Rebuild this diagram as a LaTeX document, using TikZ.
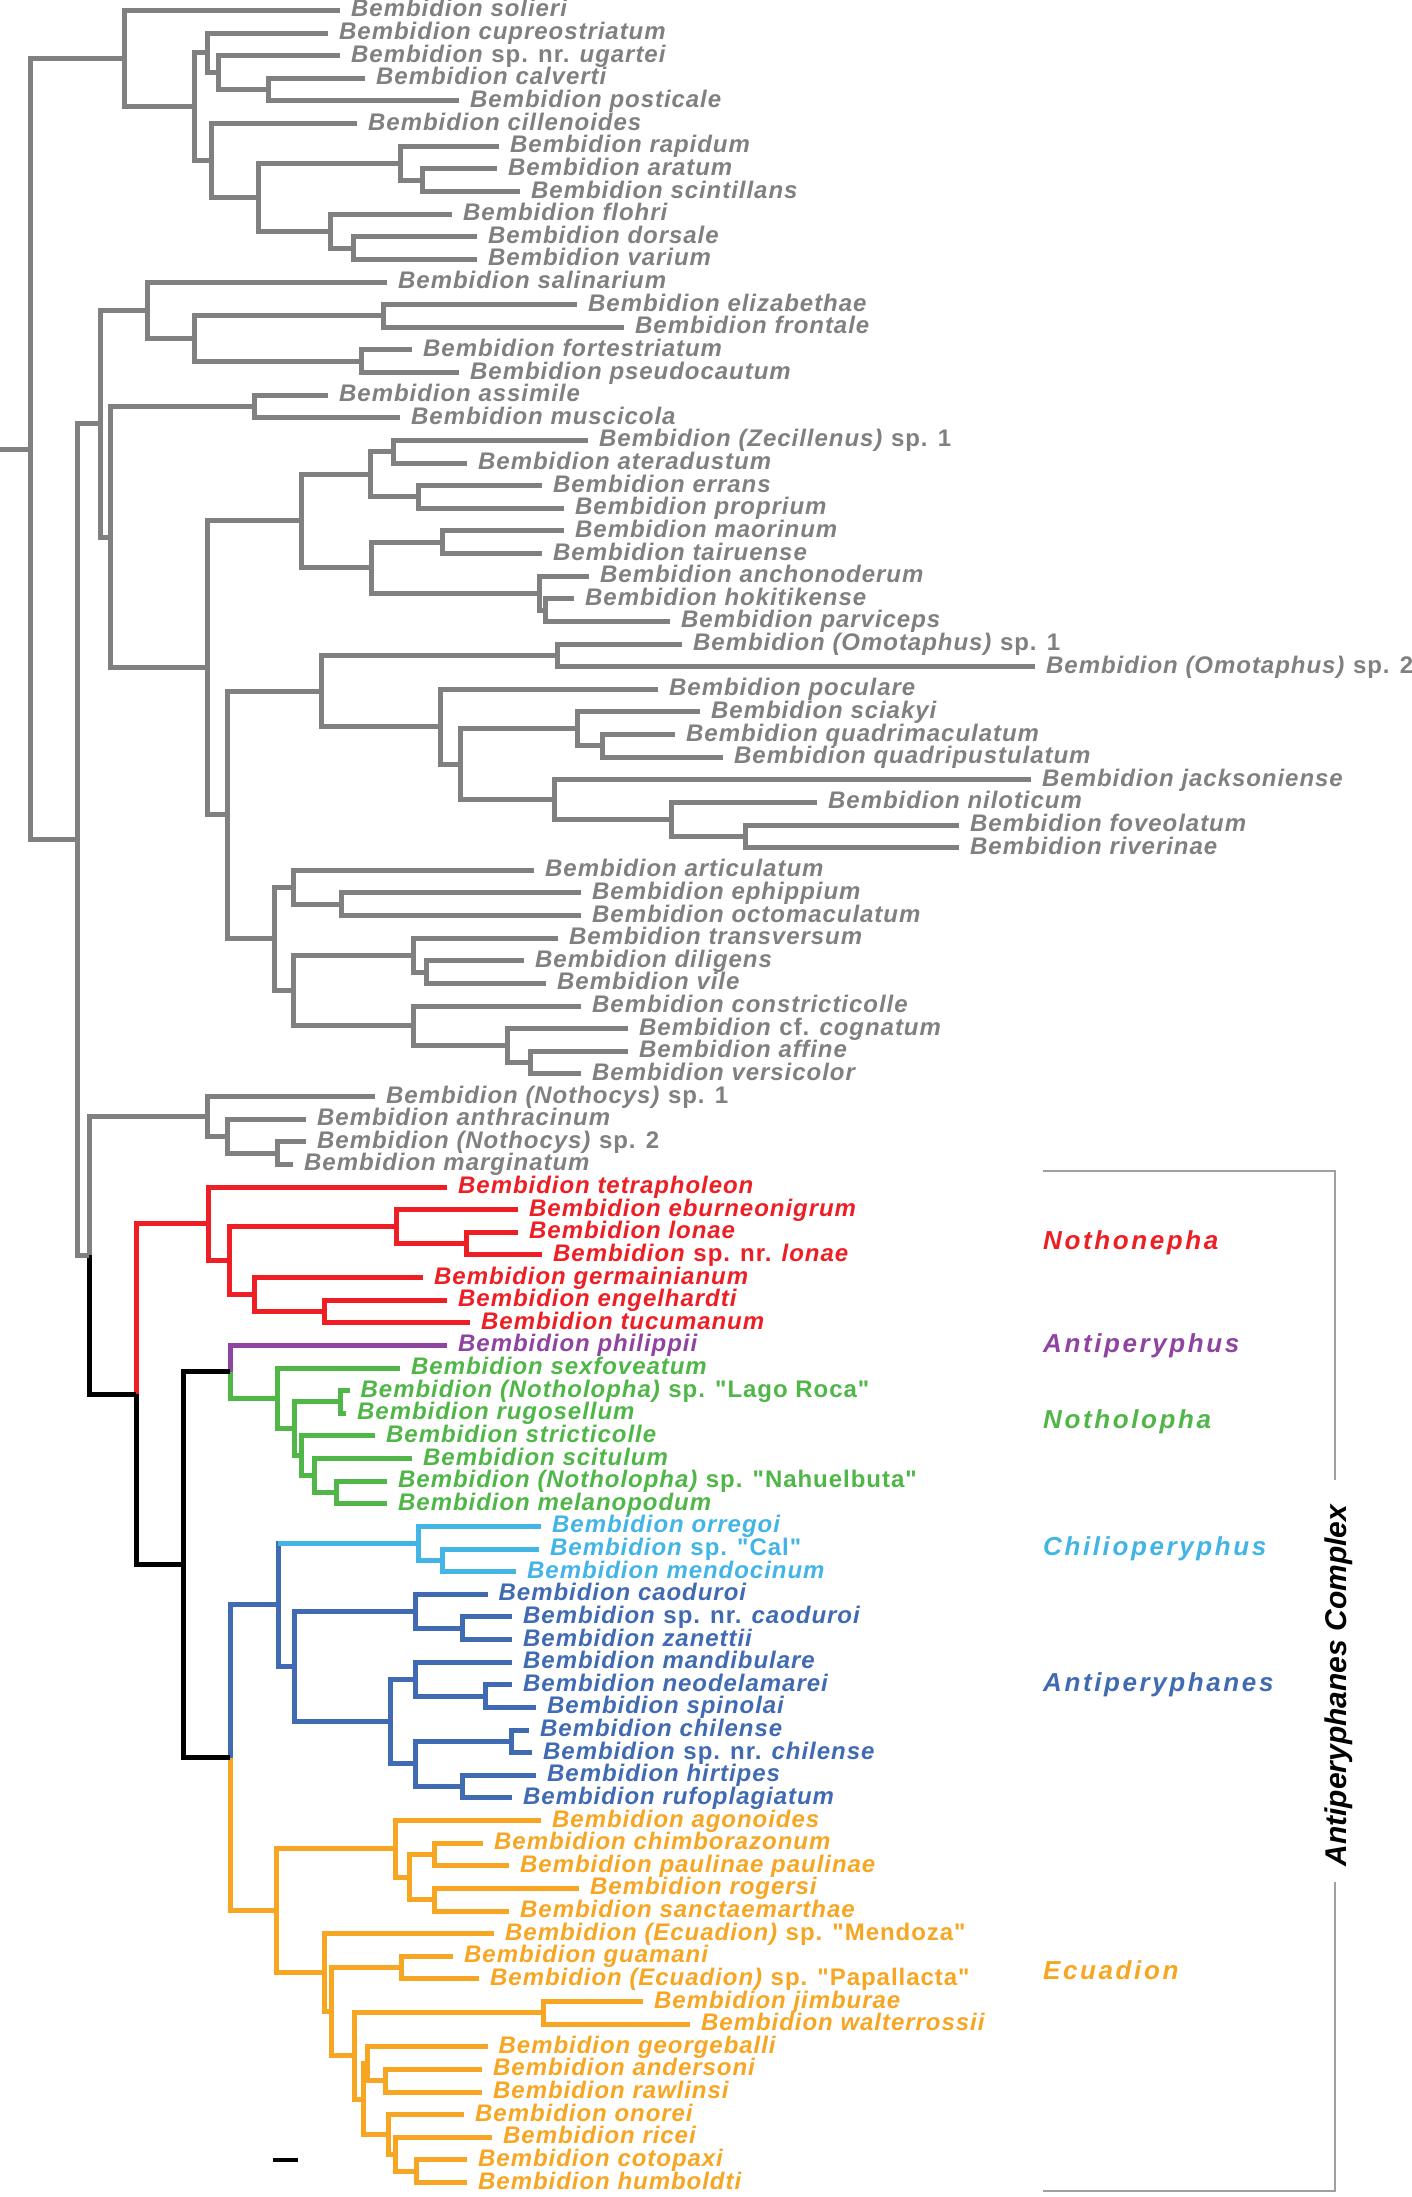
\documentclass[tikz,border=0pt]{standalone}
\usepackage{fontspec}
\setmainfont{Liberation Sans}
\newfontfamily\spf[LetterSpace=4]{Liberation Sans}
\newfontfamily\clf[LetterSpace=10]{Liberation Sans}
\newfontfamily\cxf{Liberation Sans}
\usetikzlibrary{calc}
\definecolor{cGray}{RGB}{128,128,128}
\definecolor{cBr}{RGB}{160,160,160}
\definecolor{cRed}{RGB}{237,30,36}
\definecolor{cPurple}{RGB}{142,68,160}
\definecolor{cGreen}{RGB}{80,182,72}
\definecolor{cLBlue}{RGB}{66,180,230}
\definecolor{cBlue}{RGB}{64,106,178}
\definecolor{cOrange}{RGB}{247,166,35}
\newcommand\uprm[1]{\textup{#1}}
\newcommand\lf[4]{%
  \coordinate (l#1) at (#2,{10.5+(#1-1)*22.625});
  \node[lab,text=#3] (t#1) at ($(l#1)+(11,6.5)$) {#4};}
\newcommand\nd[6]{%
  \path let \p1=(#3), \p2=(#5) in (#2pt,{(\y1+\y2)/2}) coordinate (#1);
  \draw[br,#4] (#1) |- (#3);
  \draw[br,#6] (#1) |- (#5);}
\newcommand\nn[5][cGray]{\nd{#2}{#3}{#4}{#1}{#5}{#1}}
\begin{document}
\begin{tikzpicture}[x=1pt,y=-1pt,
  br/.style={line width=5pt,line cap=butt,line join=miter},
  lab/.style={anchor=base west,inner sep=0pt,font=\spf\bfseries\itshape\fontsize{24}{28}\selectfont},
  clade/.style={anchor=base west,inner sep=0pt,font=\clf\bfseries\itshape\fontsize{26}{30}\selectfont}]
\useasboundingbox (0,0) rectangle (1411,2197);
% leaves
\lf{1}{340}{cGray}{Bembidion solieri}
\lf{2}{328}{cGray}{Bembidion cupreostriatum}
\lf{3}{340}{cGray}{Bembidion \uprm{sp. nr.} ugartei}
\lf{4}{365}{cGray}{Bembidion calverti}
\lf{5}{459}{cGray}{Bembidion posticale}
\lf{6}{357}{cGray}{Bembidion cillenoides}
\lf{7}{499}{cGray}{Bembidion rapidum}
\lf{8}{497}{cGray}{Bembidion aratum}
\lf{9}{520}{cGray}{Bembidion scintillans}
\lf{10}{452}{cGray}{Bembidion flohri}
\lf{11}{477}{cGray}{Bembidion dorsale}
\lf{12}{477}{cGray}{Bembidion varium}
\lf{13}{387}{cGray}{Bembidion salinarium}
\lf{14}{577}{cGray}{Bembidion elizabethae}
\lf{15}{624}{cGray}{Bembidion frontale}
\lf{16}{412}{cGray}{Bembidion fortestriatum}
\lf{17}{459}{cGray}{Bembidion pseudocautum}
\lf{18}{328}{cGray}{Bembidion assimile}
\lf{19}{400}{cGray}{Bembidion muscicola}
\lf{20}{588}{cGray}{Bembidion (Zecillenus) \uprm{sp. 1}}
\lf{21}{467}{cGray}{Bembidion ateradustum}
\lf{22}{542}{cGray}{Bembidion errans}
\lf{23}{564}{cGray}{Bembidion proprium}
\lf{24}{564}{cGray}{Bembidion maorinum}
\lf{25}{542}{cGray}{Bembidion tairuense}
\lf{26}{589}{cGray}{Bembidion anchonoderum}
\lf{27}{574}{cGray}{Bembidion hokitikense}
\lf{28}{670}{cGray}{Bembidion parviceps}
\lf{29}{682}{cGray}{Bembidion (Omotaphus) \uprm{sp. 1}}
\lf{30}{1035}{cGray}{Bembidion (Omotaphus) \uprm{sp. 2}}
\lf{31}{658}{cGray}{Bembidion poculare}
\lf{32}{700}{cGray}{Bembidion sciakyi}
\lf{33}{675}{cGray}{Bembidion quadrimaculatum}
\lf{34}{723}{cGray}{Bembidion quadripustulatum}
\lf{35}{1031}{cGray}{Bembidion jacksoniense}
\lf{36}{817}{cGray}{Bembidion niloticum}
\lf{37}{959}{cGray}{Bembidion foveolatum}
\lf{38}{959}{cGray}{Bembidion riverinae}
\lf{39}{534}{cGray}{Bembidion articulatum}
\lf{40}{581}{cGray}{Bembidion ephippium}
\lf{41}{581}{cGray}{Bembidion octomaculatum}
\lf{42}{558}{cGray}{Bembidion transversum}
\lf{43}{524}{cGray}{Bembidion diligens}
\lf{44}{546}{cGray}{Bembidion vile}
\lf{45}{581}{cGray}{Bembidion constricticolle}
\lf{46}{628}{cGray}{Bembidion \uprm{cf.} cognatum}
\lf{47}{628}{cGray}{Bembidion affine}
\lf{48}{581}{cGray}{Bembidion versicolor}
\lf{49}{375}{cGray}{Bembidion (Nothocys) \uprm{sp. 1}}
\lf{50}{306}{cGray}{Bembidion anthracinum}
\lf{51}{306}{cGray}{Bembidion (Nothocys) \uprm{sp. 2}}
\lf{52}{293}{cGray}{Bembidion marginatum}
\lf{53}{447}{cRed}{Bembidion tetrapholeon}
\lf{54}{518}{cRed}{Bembidion eburneonigrum}
\lf{55}{518}{cRed}{Bembidion lonae}
\lf{56}{542}{cRed}{Bembidion \uprm{sp. nr.} lonae}
\lf{57}{423}{cRed}{Bembidion germainianum}
\lf{58}{447}{cRed}{Bembidion engelhardti}
\lf{59}{470}{cRed}{Bembidion tucumanum}
\lf{60}{447}{cPurple}{Bembidion philippii}
\lf{61}{400}{cGreen}{Bembidion sexfoveatum}
\lf{62}{349.5}{cGreen}{Bembidion (Notholopha) \uprm{sp. "Lago Roca"}}
\lf{63}{346}{cGreen}{Bembidion rugosellum}
\lf{64}{375}{cGreen}{Bembidion stricticolle}
\lf{65}{412}{cGreen}{Bembidion scitulum}
\lf{66}{387}{cGreen}{Bembidion (Notholopha) \uprm{sp. "Nahuelbuta"}}
\lf{67}{387}{cGreen}{Bembidion melanopodum}
\lf{68}{541}{cLBlue}{Bembidion orregoi}
\lf{69}{539}{cLBlue}{Bembidion \uprm{sp. "Cal"}}
\lf{70}{516}{cLBlue}{Bembidion mendocinum}
\lf{71}{487.5}{cBlue}{Bembidion caoduroi}
\lf{72}{512}{cBlue}{Bembidion \uprm{sp. nr.} caoduroi}
\lf{73}{512}{cBlue}{Bembidion zanettii}
\lf{74}{512}{cBlue}{Bembidion mandibulare}
\lf{75}{512}{cBlue}{Bembidion neodelamarei}
\lf{76}{536}{cBlue}{Bembidion spinolai}
\lf{77}{529}{cBlue}{Bembidion chilense}
\lf{78}{532}{cBlue}{Bembidion \uprm{sp. nr.} chilense}
\lf{79}{536}{cBlue}{Bembidion hirtipes}
\lf{80}{512}{cBlue}{Bembidion rufoplagiatum}
\lf{81}{541}{cOrange}{Bembidion agonoides}
\lf{82}{483}{cOrange}{Bembidion chimborazonum}
\lf{83}{509}{cOrange}{Bembidion paulinae paulinae}
\lf{84}{579}{cOrange}{Bembidion rogersi}
\lf{85}{509}{cOrange}{Bembidion sanctaemarthae}
\lf{86}{494}{cOrange}{Bembidion (Ecuadion) \uprm{sp. "Mendoza"}}
\lf{87}{453}{cOrange}{Bembidion guamani}
\lf{88}{479}{cOrange}{Bembidion (Ecuadion) \uprm{sp. "Papallacta"}}
\lf{89}{643}{cOrange}{Bembidion jimburae}
\lf{90}{690}{cOrange}{Bembidion walterrossii}
\lf{91}{487.5}{cOrange}{Bembidion georgeballi}
\lf{92}{482}{cOrange}{Bembidion andersoni}
\lf{93}{482}{cOrange}{Bembidion rawlinsi}
\lf{94}{464}{cOrange}{Bembidion onorei}
\lf{95}{492}{cOrange}{Bembidion ricei}
\lf{96}{467}{cOrange}{Bembidion cotopaxi}
\lf{97}{467}{cOrange}{Bembidion humboldti}
% top clade
\nn{nE}{268}{l4}{l5}
\nn{nD}{218}{l3}{nE}
\nn{nC}{207.6}{l2}{nD}
\nn{nK}{353}{l11}{l12}
\nn{nI}{330}{l10}{nK}
\nn{nJ}{422}{l8}{l9}
\nn{nH}{400}{l7}{nJ}
\nn{nG}{258}{nH}{nI}
\nn{nF}{211.6}{l6}{nG}
\nn{nB}{194}{nC}{nF}
\nn{nA}{124}{l1}{nB}
% second clade
\nn{nR1}{383.7}{l14}{l15}
\nn{nR2}{361.6}{l16}{l17}
\nn{nQ1}{194}{nR1}{nR2}
\nn{nP1}{147}{l13}{nQ1}
\nn{nS1}{254.4}{l18}{l19}
\nn{nV1}{393.7}{l20}{l21}
\nn{nV2}{418.5}{l22}{l23}
\nn{nU1}{370.3}{nV1}{nV2}
\nn{nW1}{442}{l24}{l25}
\nn{nX1}{545.7}{l27}{l28}
\nn{nW2}{539}{l26}{nX1}
\nn{nU2}{371.6}{nW1}{nW2}
\nn{nT1}{301}{nU1}{nU2}
\nn{nZ1}{557.8}{l29}{l30}
\nn{nAC}{602.6}{l33}{l34}
\nn{nAB}{577.2}{l32}{nAC}
\nn{nAF}{745.3}{l37}{l38}
\nn{nAE}{671.6}{l36}{nAF}
\nn{nAD}{554.4}{l35}{nAE}
\nn{nAA}{460.7}{nAB}{nAD}
\nn{nZ2}{440}{l31}{nAA}
\nn{nY1}{321.4}{nZ1}{nZ2}
\nn{nAH}{341.5}{l40}{l41}
\nn{nAG}{293.3}{l39}{nAH}
\nn{nAK}{426.5}{l43}{l44}
\nn{nAJ}{413}{l42}{nAK}
\nn{nAN}{530.3}{l47}{l48}
\nn{nAM}{507.6}{l46}{nAN}
\nn{nAL}{413}{l45}{nAM}
\nn{nAI}{293.3}{nAJ}{nAL}
\nn{nY2}{274.5}{nAG}{nAI}
\nn{nT2}{227.7}{nY1}{nY2}
\nn{nS2}{207.6}{nT1}{nT2}
\nn{nP2}{110.5}{nS1}{nS2}
\nn{nN1}{100.4}{nP1}{nP2}
\nn{nNC3}{277.9}{l51}{l52}
\nn{nNC2}{227.7}{l50}{nNC3}
\nn{nNC}{207.6}{l49}{nNC2}
% Nothonepha
\nn[cRed]{nRD4}{466.7}{l55}{l56}
\nn[cRed]{nRD3}{396.4}{l54}{nRD4}
\nn[cRed]{nRD6}{324.8}{l58}{l59}
\nn[cRed]{nRD5}{254.4}{l57}{nRD6}
\nn[cRed]{nRD2}{229}{nRD3}{nRD5}
\nn[cRed]{nRD}{208.3}{l53}{nRD2}
% Notholopha
\nn[cGreen]{nG3}{340.2}{l62}{l63}
\nn[cGreen]{nG6}{336.8}{l66}{l67}
\nn[cGreen]{nG5}{314.7}{l65}{nG6}
\nn[cGreen]{nG4}{301.3}{l64}{nG5}
\nn[cGreen]{nG2}{294.6}{nG3}{nG4}
\nn[cGreen]{nGR}{277.9}{l61}{nG2}
\nd{nC2}{230}{l60}{cPurple}{nGR}{cGreen}
% Chilioperyphus
\nn[cLBlue]{nCH2}{442}{l69}{l70}
\nn[cLBlue]{nCH}{418.5}{l68}{nCH2}
% Antiperyphanes
\nn[cBlue]{nAP1b}{462}{l72}{l73}
\nn[cBlue]{nAP1}{415}{l71}{nAP1b}
\nn[cBlue]{nAP4}{485.5}{l75}{l76}
\nn[cBlue]{nAP3}{415}{l74}{nAP4}
\nn[cBlue]{nAP6}{511}{l77}{l78}
\nn[cBlue]{nAP7}{462}{l79}{l80}
\nn[cBlue]{nAP5}{415}{nAP6}{nAP7}
\nn[cBlue]{nAP2}{390.4}{nAP3}{nAP5}
\nn[cBlue]{nAP}{294.6}{nAP1}{nAP2}
\path let \p1=(nCH), \p2=(nAP) in (278.3pt,{(\y1+\y2)/2}) coordinate (nBL);
\coordinate (nBLc) at (nBL |- nCH);
\draw[br,cBlue,line cap=rect] (nBL) -- (nBLc);
\draw[br,cLBlue] (nBLc) -- (nCH);
\draw[br,cBlue] (nBL) |- (nAP);
% Ecuadion
\nn[cOrange]{nOR3}{434}{l82}{l83}
\nn[cOrange]{nOR4}{434}{l84}{l85}
\nn[cOrange]{nOR2}{409.8}{nOR3}{nOR4}
\nn[cOrange]{nOR1}{395}{l81}{nOR2}
\nn[cOrange]{nOR7}{401.8}{l87}{l88}
\nn[cOrange]{nOR9}{543.7}{l89}{l90}
\nn[cOrange]{nOR12}{385}{l92}{l93}
\nn[cOrange]{nOR10a}{367}{l91}{nOR12}
\nn[cOrange]{nOR15}{416.5}{l96}{l97}
\nn[cOrange]{nOR14}{395}{l95}{nOR15}
\nn[cOrange]{nOR13}{388.4}{l94}{nOR14}
\nn[cOrange]{nOR10}{363}{nOR10a}{nOR13}
\nn[cOrange]{nOR8}{354.9}{nOR9}{nOR10}
\nn[cOrange]{nOR6}{331.4}{nOR7}{nOR8}
\nn[cOrange]{nOR5}{324.8}{l86}{nOR6}
\nn[cOrange]{nOR}{276.5}{nOR1}{nOR5}
% backbone
\nd{nC3}{230}{nBL}{cBlue}{nOR}{cOrange}
\nn[black]{nC1}{183.3}{nC2}{nC3}
\nd{nC0}{136}{nRD}{cRed}{nC1}{black}
\nd{nN2}{89}{nNC}{cGray}{nC0}{black}
\nn{nM}{77.5}{nN1}{nN2}
\nn{nRoot}{30}{nA}{nM}
\coordinate (r0) at (0,0 |- nRoot);
\draw[br,cGray] (r0) -- (nRoot);
% clade labels
\node[clade,text=cRed] (cNothonepha) at (1043,1249.3) {Nothonepha};
\node[clade,text=cPurple] (cAntiperyphus) at (1043,1352.3) {Antiperyphus};
\node[clade,text=cGreen] (cNotholopha) at (1043,1428.3) {Notholopha};
\node[clade,text=cLBlue] (cChilio) at (1043,1555.6) {Chilioperyphus};
\node[clade,text=cBlue] (cAntiphanes) at (1043,1691) {Antiperyphanes};
\node[clade,text=cOrange] (cEcuadion) at (1043,1979) {Ecuadion};
% bracket
\coordinate (b1) at (1043,1171);
\coordinate (b2) at (1335,1171);
\coordinate (b3) at (1335,1480);
\coordinate (b4) at (1335,1882);
\coordinate (b5) at (1335,2191);
\coordinate (b6) at (1043,2191);
\draw[cBr,line width=2.7pt] (b1) -- (b2) -- (b3);
\draw[cBr,line width=2.7pt] (b4) -- (b5) -- (b6);
\node[rotate=90,anchor=base,inner sep=0pt,font=\cxf\bfseries\itshape\fontsize{30}{34}\selectfont] (cplx) at (1346,1685.5) {Antiperyphanes Complex};
% scale bar
\coordinate (s1) at (273,2160);
\coordinate (s2) at (298,2160);
\draw[black,line width=4.5pt] (s1) -- (s2);
\end{tikzpicture}
\end{document}
